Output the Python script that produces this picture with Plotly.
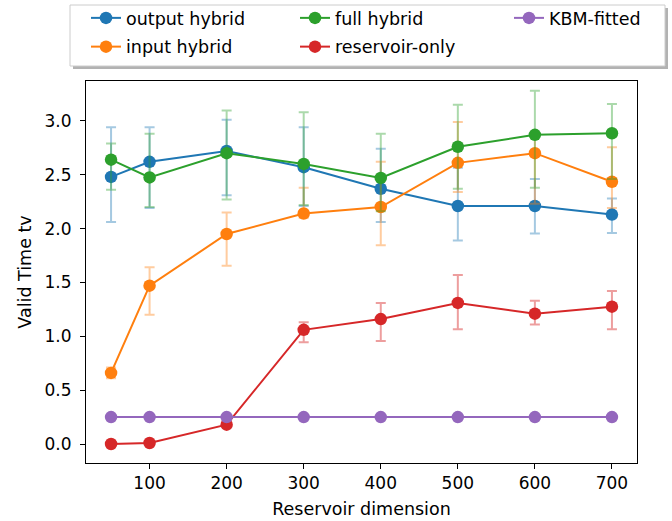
import plotly.graph_objects as go

# ---------------- data ----------------
reservoir_dim = [50, 100, 200, 300, 400, 500, 600, 700]

output_mean = [2.48, 2.62, 2.72, 2.57, 2.37, 2.21, 2.21, 2.13]
output_upper = [2.94, 2.94, 3.01, 2.94, 2.74, 2.565, 2.46, 2.28]
output_lower = [2.06, 2.19, 2.31, 2.21, 2.06, 1.89, 1.955, 1.96]

input_mean = [0.66, 1.47, 1.95, 2.14, 2.20, 2.61, 2.70, 2.435]
input_upper = [0.71, 1.64, 2.15, 2.38, 2.62, 2.99, 2.87, 2.755]
input_lower = [0.61, 1.20, 1.655, 2.10, 1.845, 2.34, 2.23, 2.19]

full_mean = [2.64, 2.475, 2.70, 2.60, 2.47, 2.76, 2.87, 2.885]
full_upper = [2.79, 2.88, 3.095, 3.08, 2.88, 3.15, 3.28, 3.157]
full_lower = [2.36, 2.20, 2.27, 2.22, 2.16, 2.37, 2.38, 2.46]

res_mean = [0.0, 0.01, 0.18, 1.06, 1.16, 1.31, 1.21, 1.275]
res_upper = [0.0, 0.01, 0.18, 1.13, 1.31, 1.57, 1.33, 1.42]
res_lower = [0.0, 0.01, 0.18, 0.944, 0.956, 1.065, 1.11, 1.065]

kbm_mean = [0.25, 0.25, 0.25, 0.25, 0.25, 0.25, 0.25, 0.25]

x_ticks = [100, 200, 300, 400, 500, 600, 700]
y_ticks = [0.0, 0.5, 1.0, 1.5, 2.0, 2.5, 3.0]

# ---------------- figure ----------------
FONT = "DejaVu Sans"
W, H = 672, 521
ml, mr, mt, mb = 86, 35, 81, 58
PW, PH = W - ml - mr, H - mt - mb


def px_x(p):
    return (p - ml) / PW


def px_y(p):
    return (H - mb - p) / PH


series = [
    # name, mean, upper, lower, color, err-rgba, legend
    ("output hybrid", output_mean, output_upper, output_lower, "#1f77b4", "rgba(31,119,180,0.4)", "legend"),
    ("input hybrid", input_mean, input_upper, input_lower, "#ff7f0e", "rgba(255,127,14,0.4)", "legend"),
    ("full hybrid", full_mean, full_upper, full_lower, "#2ca02c", "rgba(44,160,44,0.4)", "legend2"),
    ("reservoir-only", res_mean, res_upper, res_lower, "#d62728", "rgba(214,39,40,0.45)", "legend2"),
]

fig = go.Figure()
for name, m, up, lo, col, ecol, leg in series:
    plus = [u - v for u, v in zip(up, m)]
    minus = [v - l for v, l in zip(m, lo)]
    fig.add_trace(go.Scatter(
        x=reservoir_dim, y=m, name=name, mode="lines+markers",
        line=dict(color=col, width=2),
        marker=dict(color=col, size=12.5),
        error_y=dict(type="data", symmetric=False, array=plus, arrayminus=minus,
                     color=ecol, thickness=2, width=5),
        legend=leg, legendgroup=name,
    ))

fig.add_trace(go.Scatter(
    x=reservoir_dim, y=kbm_mean, name="KBM-fitted", mode="lines+markers",
    line=dict(color="#9467bd", width=2),
    marker=dict(color="#9467bd", size=12.5),
    legend="legend3", legendgroup="KBM-fitted",
))

# legend frame + shadow
fig.add_shape(type="rect", xref="paper", yref="paper",
              x0=px_x(73), x1=px_x(668), y0=px_y(69), y1=px_y(8),
              fillcolor="rgba(0,0,0,0.3)", line=dict(width=0), layer="above")
fig.add_shape(type="rect", xref="paper", yref="paper",
              x0=px_x(70), x1=px_x(665), y0=px_y(66), y1=px_y(5),
              fillcolor="white", line=dict(color="#cccccc", width=1), layer="above")

leg_common = dict(
    orientation="v", yanchor="top", xanchor="left", y=px_y(0),
    bgcolor="rgba(0,0,0,0)", borderwidth=0, tracegroupgap=3,
    font=dict(family=FONT, size=17.5, color="black"),
)

fig.update_layout(
    width=W, height=H,
    margin=dict(l=ml, r=mr, t=mt, b=mb, autoexpand=False),
    paper_bgcolor="white", plot_bgcolor="white",
    font=dict(family=FONT, size=17, color="black"),
    showlegend=True,
    legend=dict(x=px_x(86), **leg_common),
    legend2=dict(x=px_x(295), **leg_common),
    legend3=dict(x=px_x(509), **leg_common),
    xaxis=dict(
        range=[17.5, 732.5], tickmode="array", tickvals=x_ticks,
        ticks="outside", ticklen=5, tickcolor="black", showgrid=False, zeroline=False,
        showline=True, linecolor="black", linewidth=1, mirror=True,
        title=dict(text="Reservoir dimension", font=dict(size=17.5), standoff=10),
        tickfont=dict(size=17),
    ),
    yaxis=dict(
        range=[-0.176, 3.37], tickmode="array", tickvals=y_ticks, tickformat=".1f",
        ticks="outside", ticklen=5, tickcolor="black", showgrid=False, zeroline=False,
        showline=True, linecolor="black", linewidth=1, mirror=True,
        ticklabelstandoff=5,
        title=dict(text="Valid Time tv", font=dict(size=17.5), standoff=8),
        tickfont=dict(size=17),
    ),
)

fig.write_html("out.html", config={"displayModeBar": False},
               post_script="document.body.style.margin='0';")
